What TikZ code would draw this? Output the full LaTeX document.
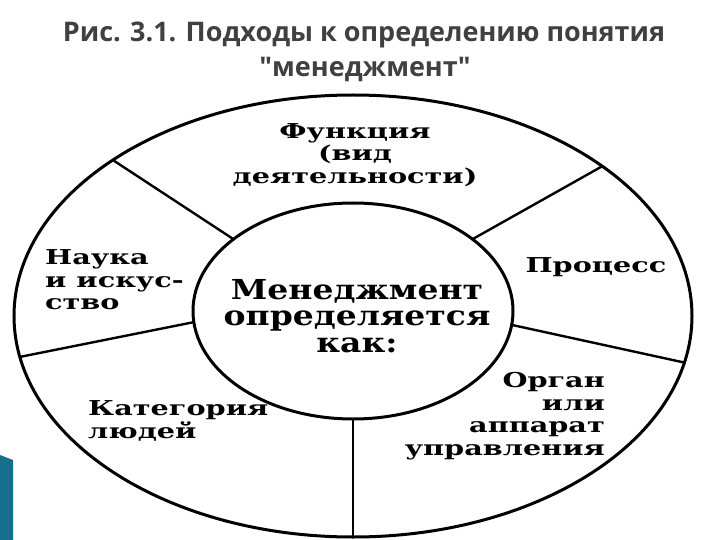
\documentclass[tikz,border=0pt]{standalone}
\usepackage{fontspec}
\usetikzlibrary{shapes.geometric}
\newfontfamily\serfont[FakeStretch=1.4]{DejaVu Serif Bold}
\newfontfamily\midfont[FakeStretch=1.2]{DejaVu Serif Bold}
\newfontfamily\titfont{Open Sans Bold}
\definecolor{titgray}{RGB}{64,64,64}
\definecolor{barteal}{RGB}{20,110,140}
\begin{document}
\begin{tikzpicture}[x=1pt,y=-1pt,
  ring/.style={draw=black, ellipse, line width=3pt, inner sep=0pt, outer sep=0pt},
  divider/.style={draw=black, line width=2.4pt},
  lbl/.style={inner sep=0pt, font=\serfont\fontsize{20.5}{22.5}\selectfont},
  midlbl/.style={inner sep=0pt, font=\midfont\fontsize{27.5}{26.5}\selectfont, align=center},
  ttl/.style={inner sep=0pt, text=titgray, font=\titfont\fontsize{27}{35}\selectfont}]
\useasboundingbox (0,0) rectangle (720,540);
\fill[barteal] (0,455) -- (13,460) -- (13,540) -- (0,540) -- cycle;
\node[ttl, anchor=base] (t1) at (364,42) {Рис. 3.1. Подходы к определению понятия};
\node[ttl, anchor=base] (t2) at (365,77) {"менеджмент"};
\node[ring, minimum width=678pt, minimum height=442pt] (outer) at (353,316) {};
\node[ring, minimum width=320pt, minimum height=216pt] (inner) at (353,311) {};
\draw[divider] (inner.149) -- (outer.147);
\draw[divider] (inner.31) -- (outer.31);
\draw[divider] (inner.184) -- (outer.187.6);
\draw[divider] (inner.-5.6) -- (outer.-8.2);
\draw[divider] (inner.south) -- (outer.south);
\node[midlbl] (mid) at (357,316) {Менеджмент\\определяется\\как:};
\node[lbl, align=center] (func) at (355,155) {Функция\\(вид\\деятельности)};
\node[lbl, align=left, anchor=west] (nauka) at (45,280) {Наука\\и искус-\\ство};
\node[lbl, anchor=center] (proc) at (596,267) {Процесс};
\node[lbl, align=left, anchor=west] (kat) at (88,421) {Категория\\людей};
\node[lbl, align=right, anchor=east] (org) at (605,416) {Орган\\или\\аппарат\\управления};
\end{tikzpicture}
\end{document}
